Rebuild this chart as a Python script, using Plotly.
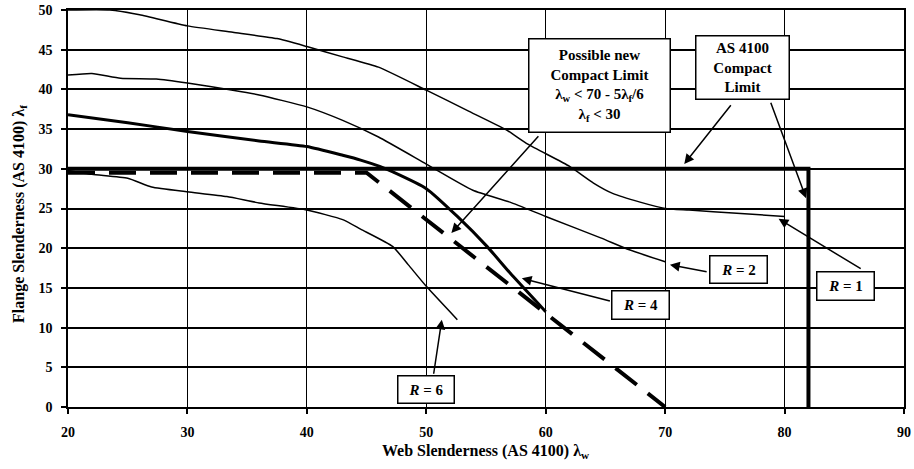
import plotly.graph_objects as go

# Web slenderness (x) vs flange slenderness (y) curves for each R value
r1_x = [20, 23.5, 26, 30, 33.8, 37.5, 40, 43, 46, 50, 53.5, 56.7, 58.5, 62, 64, 65.6, 67.9, 70, 72, 76, 80]
r1_y = [50, 50, 49.4, 48, 47.2, 46.4, 45.4, 44.1, 42.8, 39.9, 37.3, 34.9, 33.1, 30.3, 28.2, 26.9, 25.8, 25.0, 24.8, 24.4, 24.0]

r2_x = [20, 22, 24.4, 27.4, 30, 33.8, 36, 40, 43, 46, 50, 53.9, 57, 60, 64.6, 67, 70]
r2_y = [41.8, 42.0, 41.4, 41.3, 40.8, 39.9, 39.3, 37.8, 36.1, 34.0, 30.6, 27.3, 25.8, 24.0, 21.3, 19.8, 18.3]

r4_x = [20, 25, 30, 36, 40, 43, 44.5, 46.1, 47.2, 50, 52.6, 55.1, 57, 60]
r4_y = [36.8, 35.8, 34.7, 33.5, 32.8, 31.7, 31.1, 30.3, 29.6, 27.5, 24.0, 20.2, 16.9, 12.0]

r6_x = [20, 22, 25, 27, 30, 33.3, 36, 40, 43, 44.5, 47.2, 48.5, 50, 52.6]
r6_y = [29.8, 29.3, 28.8, 27.7, 27.1, 26.5, 25.7, 24.8, 23.6, 22.4, 20.2, 17.9, 15.2, 11.0]

# AS 4100 compact limit: lambda_f < 30, lambda_w < 82
as4100_x = [20, 82, 82]
as4100_y = [30, 30, 0]

# Proposed compact limit: lambda_w < 70 - 5*lambda_f/6, lambda_f < 30
new_limit_x = [20, 45, 70]
new_limit_y = [29.5, 29.5, 0]

x_ticks = [20, 30, 40, 50, 60, 70, 80, 90]
y_ticks = [0, 5, 10, 15, 20, 25, 30, 35, 40, 45, 50]

FONT = "Liberation Serif"

fig = go.Figure()

thin = dict(color="black", width=1.5, shape="spline", smoothing=0.5)
fig.add_trace(go.Scatter(x=r1_x, y=r1_y, mode="lines", line=thin))
fig.add_trace(go.Scatter(x=r2_x, y=r2_y, mode="lines", line=thin))
fig.add_trace(go.Scatter(x=r6_x, y=r6_y, mode="lines", line=thin))
fig.add_trace(go.Scatter(x=r4_x, y=r4_y, mode="lines",
                         line=dict(color="black", width=3, shape="spline", smoothing=0.5)))
fig.add_trace(go.Scatter(x=as4100_x, y=as4100_y, mode="lines",
                         line=dict(color="black", width=4)))
fig.add_trace(go.Scatter(x=new_limit_x, y=new_limit_y, mode="lines",
                         line=dict(color="black", width=4, dash="27px,14px")))

# Labelled boxes: (text, x, y, width, height)
boxes = [
    ("<b>Possible new<br>Compact Limit<br>λ<sub>w</sub> &lt; 70 - 5λ<sub>f</sub>/6<br>λ<sub>f</sub> &lt; 30</b>",
     64.47, 40.5, 136, 88),
    ("<b>AS 4100<br>Compact<br>Limit</b>", 76.45, 42.8, 88, 58),
    ("<b><i>R</i> = 2</b>", 76.16, 17.3, 52, 22),
    ("<b><i>R</i> = 1</b>", 85.1, 15.25, 52, 23),
    ("<b><i>R</i> = 4</b>", 67.9, 12.85, 52, 23),
    ("<b><i>R</i> = 6</b>", 49.94, 2.2, 51, 22),
]
for text, bx, by, w, h in boxes:
    fig.add_annotation(x=bx, y=by, xref="x", yref="y", text=text, showarrow=False,
                       width=w, height=h, align="center", valign="middle",
                       bgcolor="white", bordercolor="black", borderwidth=1.5, borderpad=2,
                       font=dict(family=FONT, size=15, color="black"))

# Leader arrows: (tail x, tail y, head x, head y)
arrows = [
    (59.5, 34.3, 52.1, 21.9),
    (75.6, 38.2, 71.6, 30.6),
    (78.8, 38.5, 81.8, 26.3),
    (73.6, 17.0, 70.4, 17.9),
    (86.5, 17.3, 79.5, 23.7),
    (65.5, 13.3, 58.0, 16.2),
    (50.6, 4.0, 51.3, 11.0),
]
for tx, ty, hx, hy in arrows:
    fig.add_annotation(x=hx, y=hy, ax=tx, ay=ty, xref="x", yref="y", axref="x", ayref="y",
                       text="", showarrow=True, arrowhead=2, arrowsize=1.3, arrowwidth=1.5,
                       arrowcolor="black", standoff=0, startstandoff=0)

# Axis titles
fig.add_annotation(x=-0.058, y=0.485, xref="paper", yref="paper", textangle=-90,
                   text="<b>Flange Slenderness (AS 4100) λ<sub>f</sub></b>", showarrow=False,
                   xanchor="center", yanchor="middle",
                   font=dict(family=FONT, size=16, color="black"))
fig.add_annotation(x=0.5, y=-0.113, xref="paper", yref="paper",
                   text="<b>Web Slenderness (AS 4100) λ<sub>w</sub></b>", showarrow=False,
                   xanchor="center", yanchor="middle",
                   font=dict(family=FONT, size=16, color="black"))

axis_common = dict(showline=True, linecolor="black", linewidth=1.5, mirror=True,
                   ticks="outside", ticklen=5, tickwidth=1.5, tickcolor="black",
                   showgrid=True, gridcolor="black", zeroline=False, automargin=False,
                   tickfont=dict(family=FONT, size=14, color="black"))

fig.update_xaxes(range=[20, 90], tickvals=x_ticks,
                 ticktext=[f"<b>{v}</b>" for v in x_ticks], gridwidth=1,
                 ticklabelstandoff=6, **axis_common)
fig.update_yaxes(range=[0, 50], tickvals=y_ticks,
                 ticktext=[f"<b>{v}</b>" for v in y_ticks], gridwidth=1.5,
                 ticklabelstandoff=6, **axis_common)

fig.update_layout(width=914, height=469, margin=dict(l=68, r=10, t=10, b=62, autoexpand=False),
                  plot_bgcolor="white", paper_bgcolor="white", showlegend=False,
                  font=dict(family=FONT, color="black"))

fig.write_html("out.html")
